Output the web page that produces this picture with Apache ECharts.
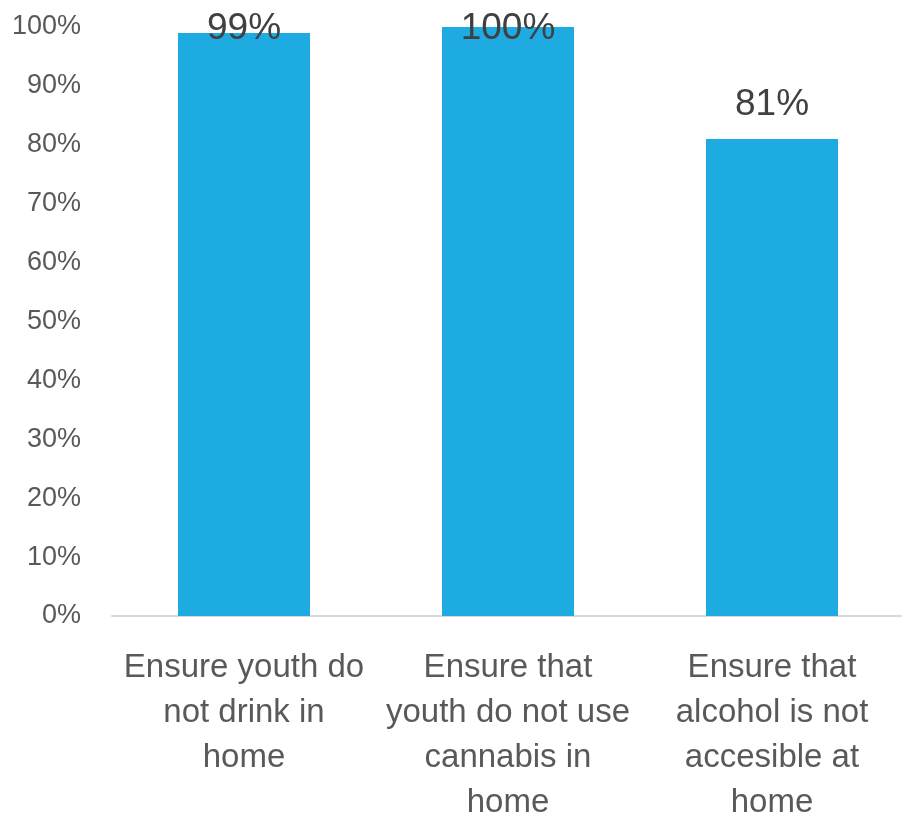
<!DOCTYPE html>
<html>
<head>
<meta charset="utf-8">
<script src="https://cdn.jsdelivr.net/npm/echarts@6/dist/echarts.min.js"></script>
<style>
  html, body { margin: 0; padding: 0; background: #ffffff; }
  #chart { width: 902px; height: 818px; }
</style>
</head>
<body>
<div id="chart"></div>
<script>
// Household rules reported by respondents (% of households)
const categories = [
  'Ensure youth do\nnot drink in\nhome',
  'Ensure that\nyouth do not use\ncannabis in\nhome',
  'Ensure that\nalcohol is not\naccesible at\nhome'
];
const percentages = [99, 100, 81];

const chart = echarts.init(document.getElementById('chart'), null, { renderer: 'canvas' });

chart.setOption({
  animation: false,
  backgroundColor: '#ffffff',
  grid: {
    left: 112, right: -2, top: 27, bottom: 202,
    containLabel: false,
    outerBoundsMode: 'none'
  },
  xAxis: {
    type: 'category',
    data: categories,
    axisLine: { show: true, lineStyle: { color: '#d9d9d9', width: 2 } },
    axisTick: { show: false },
    axisLabel: {
      interval: 0,
      margin: 29,
      color: '#595959',
      fontFamily: '"Liberation Sans", Arial, sans-serif',
      fontSize: 33,
      lineHeight: 45
    }
  },
  yAxis: {
    type: 'value',
    min: 0,
    max: 100,
    interval: 10,
    axisLine: { show: false },
    axisTick: { show: false },
    splitLine: { show: false },
    axisLabel: {
      margin: 31,
      padding: [5, 0, 0, 0],
      color: '#595959',
      fontFamily: '"Liberation Sans", Arial, sans-serif',
      fontSize: 27,
      formatter: '{value}%'
    }
  },
  series: [{
    type: 'bar',
    data: percentages,
    barWidth: '50%',
    itemStyle: { color: '#1eabe2' },
    label: {
      show: true,
      position: 'top',
      distance: 16,
      color: '#404040',
      fontFamily: '"Liberation Sans", Arial, sans-serif',
      fontSize: 37,
      lineHeight: 37,
      formatter: '{c}%'
    },
    // keep value labels inside the chart's top edge
    labelLayout: function (p) {
      const minTop = 10;
      if (p.labelRect.y < minTop) {
        return { dy: minTop - p.labelRect.y };
      }
      return {};
    }
  }]
});
</script>
</body>
</html>
